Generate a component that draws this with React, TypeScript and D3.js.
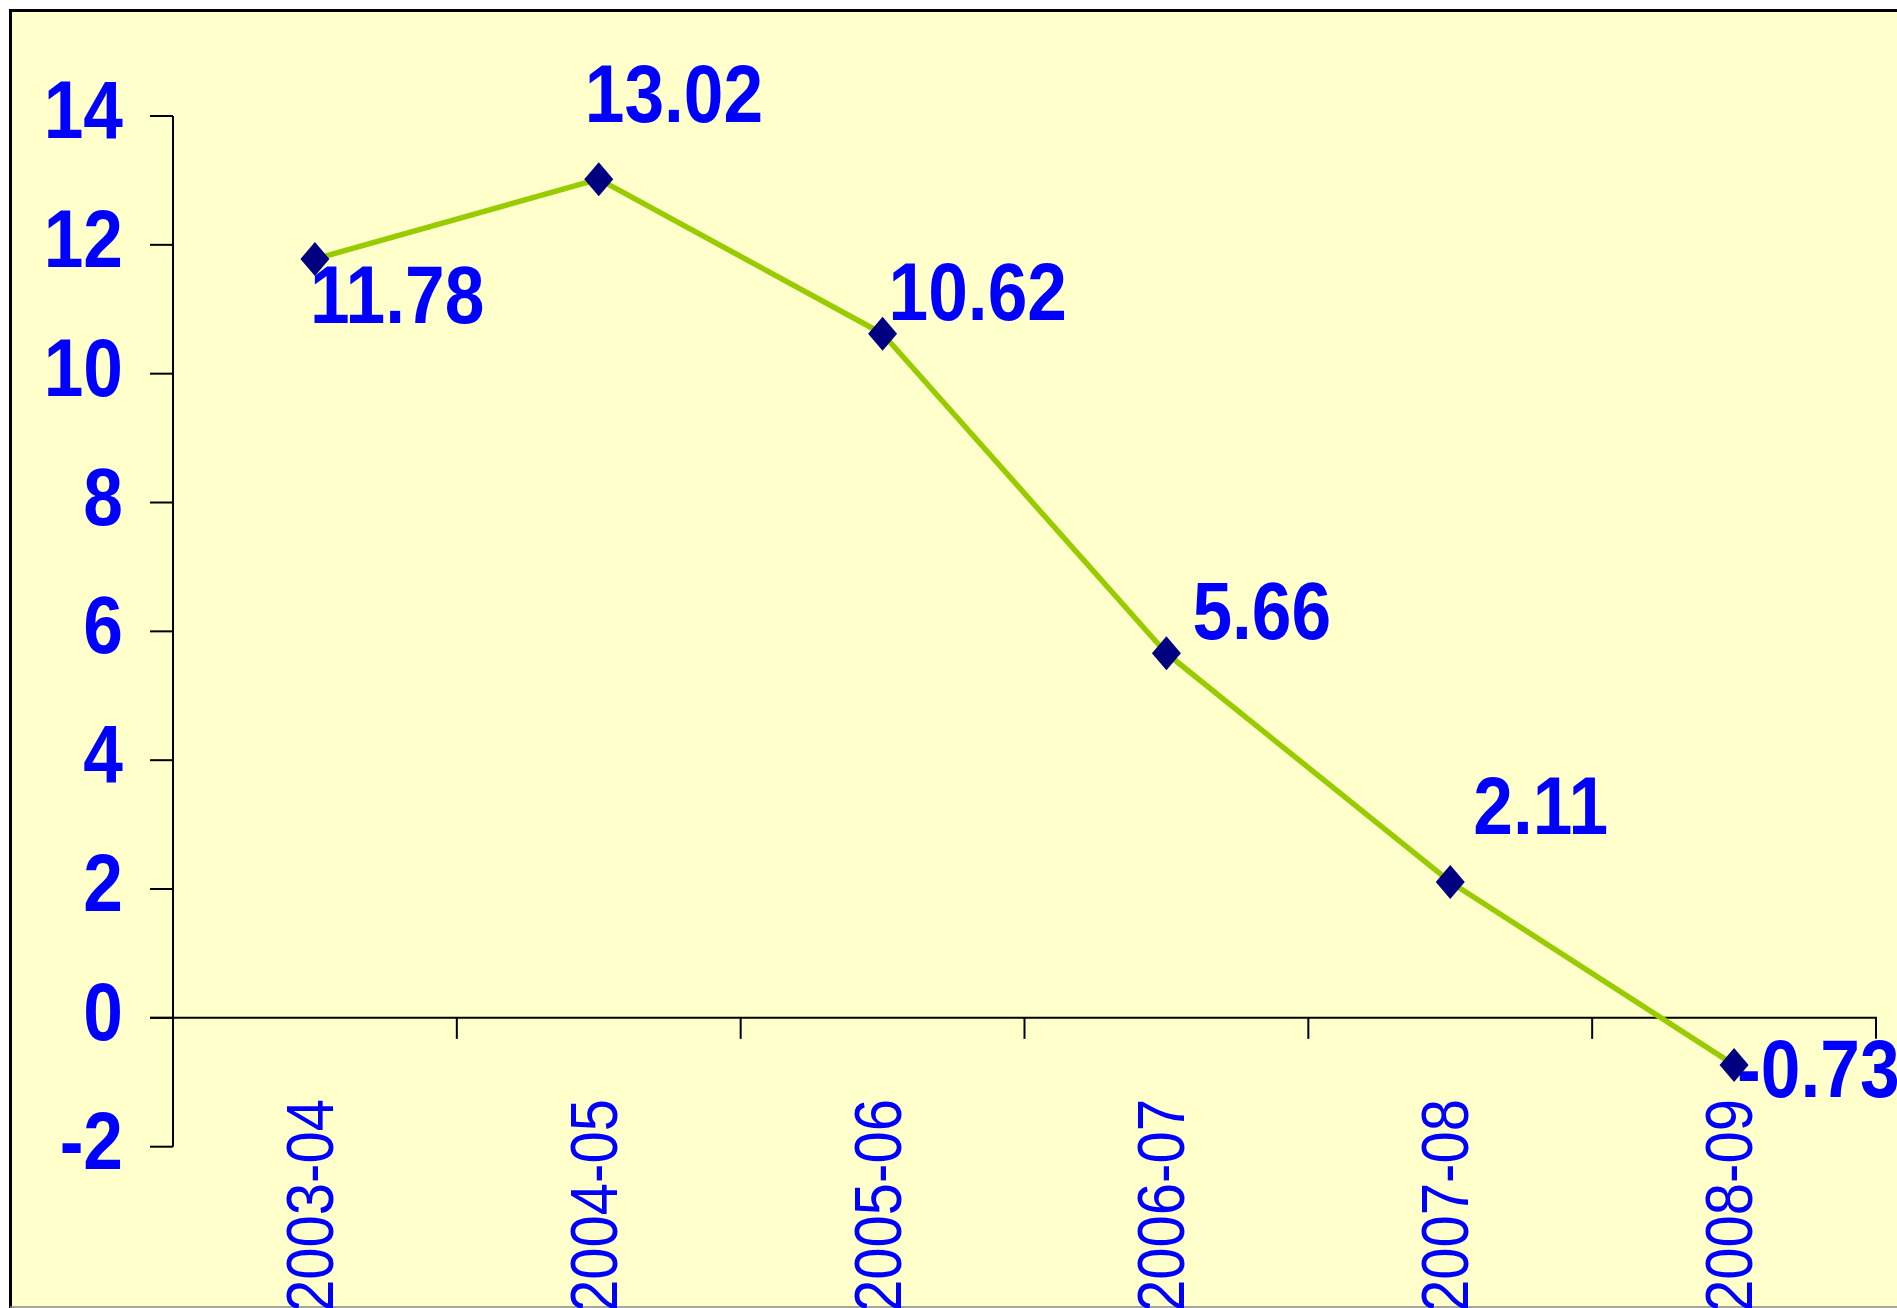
import React from "react";
import * as d3 from "d3";

const categories = ["2003-04", "2004-05", "2005-06", "2006-07", "2007-08", "2008-09"];
const values = [11.78, 13.02, 10.62, 5.66, 2.11, -0.73];
const valueLabels = ["11.78", "13.02", "10.62", "5.66", "2.11", "-0.73"];
const yTicks = [-2, 0, 2, 4, 6, 8, 10, 12, 14];
// label offsets relative to marker (layout, not data)
const labelOffsets: [number, number][] = [
  [-5, 64],
  [-14, -57],
  [6, -14],
  [26, -14],
  [23, -48],
  [3, 32],
];

const W = 1897;
const H = 1308;
const FONT = "'Liberation Sans', Arial, sans-serif";
const SQ = 0.88;

export default function App() {
  const x = d3.scaleBand<string>().domain(categories).range([173, 1876]).padding(0);
  const y = d3.scaleLinear().domain([-2, 14]).range([1146.7, 116]);
  const cx = (c: string) => (x(c) as number) + x.bandwidth() / 2;
  const line = d3
    .line<number>()
    .x((_, i) => cx(categories[i]))
    .y((v) => y(v));
  const y0 = y(0);
  const boundaries = categories.map((c) => (x(c) as number) + x.bandwidth());

  return (
    <svg
      width={W}
      height={H}
      style={{ position: "absolute", left: 0, top: 0, display: "block" }}
    >
      <rect x={0} y={0} width={W} height={H} fill="#ffffff" />
      <rect x={11} y={11} width={W} height={1296} fill="#FFFFCC" />
      <line x1={10} y1={10.5} x2={W} y2={10.5} stroke="#000" strokeWidth={3} />
      <line x1={10.5} y1={9} x2={10.5} y2={1308} stroke="#000" strokeWidth={3} />
      <line x1={10} y1={1307} x2={W} y2={1307} stroke="#888" strokeWidth={1.5} />

      {/* y axis */}
      <line x1={173} y1={y(14)} x2={173} y2={y(-2)} stroke="#000" strokeWidth={2} />
      {yTicks.map((t) => (
        <g key={t}>
          <line x1={150} y1={y(t)} x2={173} y2={y(t)} stroke="#000" strokeWidth={2} />
          <text
            transform={`translate(123,${y(t) + 22}) scale(${SQ},1)`}
            textAnchor="end"
            fontFamily={FONT}
            fontWeight="bold"
            fontSize={81}
            fill="#0000FF"
          >
            {String(t)}
          </text>
        </g>
      ))}

      {/* x axis */}
      <line x1={150} y1={y0} x2={1877} y2={y0} stroke="#000" strokeWidth={2} />
      {boundaries.map((b, i) => (
        <line key={i} x1={b} y1={y0} x2={b} y2={y0 + 21} stroke="#000" strokeWidth={2} />
      ))}
      {categories.map((c) => (
        <text
          key={c}
          transform={`translate(${cx(c) + 18},1099) rotate(-90) scale(${SQ},1)`}
          textAnchor="end"
          fontFamily={FONT}
          fontSize={66}
          fill="#0000FF"
        >
          {c}
        </text>
      ))}

      {/* line */}
      <path
        d={line(values) || ""}
        fill="none"
        stroke="#99CC00"
        strokeWidth={5.5}
        strokeLinejoin="round"
      />

      {/* labels */}
      {values.map((v, i) => (
        <text
          key={i}
          transform={`translate(${cx(categories[i]) + labelOffsets[i][0]},${y(v) + labelOffsets[i][1]}) scale(${SQ},1)`}
          fontFamily={FONT}
          fontWeight="bold"
          fontSize={81}
          fill="#0000FF"
        >
          {valueLabels[i]}
        </text>
      ))}

      {/* markers */}
      {values.map((v, i) => {
        const px = cx(categories[i]);
        const py = y(v);
        const hw = 14.5;
        const hh = 17;
        return (
          <path
            key={i}
            d={`M${px},${py - hh}L${px + hw},${py}L${px},${py + hh}L${px - hw},${py}Z`}
            fill="#000080"
          />
        );
      })}
    </svg>
  );
}
